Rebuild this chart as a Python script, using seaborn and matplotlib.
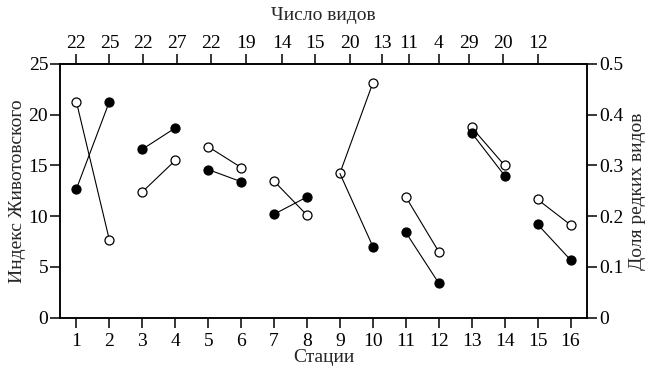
import numpy as np
import pandas as pd
import matplotlib
matplotlib.use("Agg")
import matplotlib.pyplot as plt
import seaborn as sns

# stations and values
stations = list(range(1, 17))
# Zhivotovsky index (filled circles, left axis); station 9 coincides with the open point
index_vals = [12.7, 21.3, 16.6, 18.7, 14.6, 13.4, 10.2, 11.9,
              14.2, 7.0, 8.4, 3.4, 18.2, 14.0, 9.2, 5.7]
# share of rare species (open circles, right axis)
rare_share = [0.425, 0.153, 0.248, 0.310, 0.337, 0.296, 0.269, 0.202,
              0.285, 0.463, 0.238, 0.130, 0.375, 0.300, 0.233, 0.183]
# number of species (top axis)
species_n = ["22", "25", "22", "27", "22", "19", "14", "15",
             "20", "13", "11", "4", "29", "20", "12"]
# where the top ticks sit in the original drawing
top_pos = [1.0, 2.0, 3.03, 4.05, 5.09, 6.15, 7.24, 8.25,
           9.31, 10.27, 11.1, 12.0, 12.92, 13.94, 15.02]

df = pd.DataFrame({"station": stations, "index": index_vals, "rare": rare_share})
df["pair"] = (df["station"] - 1) // 2

sns.set_style("ticks")
plt.rcParams["font.family"] = ["Liberation Serif", "DejaVu Serif"]
plt.rcParams["font.size"] = 14
plt.rcParams["axes.linewidth"] = 1.1
for a in ("xtick", "ytick"):
    plt.rcParams[a + ".major.size"] = 7.5
    plt.rcParams[a + ".major.width"] = 1.1
    plt.rcParams[a + ".direction"] = "out"
    plt.rcParams[a + ".color"] = "black"
    plt.rcParams[a + ".labelsize"] = 14

fig = plt.figure(figsize=(6.47, 3.69), dpi=100)
ax = fig.add_axes([60 / 647, 51.3 / 369, 527 / 647, 253.7 / 369])
ax2 = ax.twinx()
# filled series drawn on top
ax.set_zorder(ax2.get_zorder() + 1)
ax.patch.set_visible(False)

line_kw = dict(units="pair", estimator=None, color="black", lw=0.8, legend=False)
mk = dict(s=42, edgecolor="black", linewidth=0.9, legend=False, zorder=5)

sns.lineplot(data=df, x="station", y="rare", ax=ax2, **line_kw)
sns.scatterplot(data=df, x="station", y="rare", ax=ax2, color="white", **mk)

sns.lineplot(data=df, x="station", y="index", ax=ax, **line_kw)
sns.scatterplot(data=df[df["station"] != 9], x="station", y="index", ax=ax,
                color="black", **mk)

ax.set_xlim(0.5, 16.5)
ax.set_ylim(0, 25)
ax2.set_ylim(0, 0.5)
ax.set_xticks(stations)
ax.set_yticks([0, 5, 10, 15, 20, 25])
ax2.set_yticks([0, 0.1, 0.2, 0.3, 0.4, 0.5])
ax2.set_yticklabels(["0", "0.1", "0.2", "0.3", "0.4", "0.5"])
ax.tick_params(axis="x", pad=3.5)
ax.tick_params(axis="y", pad=1)
ax2.tick_params(axis="y", pad=1)

ax.set_xlabel("Стации", labelpad=-1)
ax.set_ylabel("Индекс Животовского", labelpad=2)
ax2.set_ylabel("Доля редких видов", labelpad=4)

top = ax.secondary_xaxis("top")
top.set_xticks(top_pos)
top.set_xticklabels(species_n)
top.tick_params(axis="x", pad=1)
top.set_xlabel("Число видов", labelpad=11)

for s in ax.spines.values():
    s.set_color("black")
for s in ax2.spines.values():
    s.set_color("black")

fig.savefig("out.png", dpi=100)
